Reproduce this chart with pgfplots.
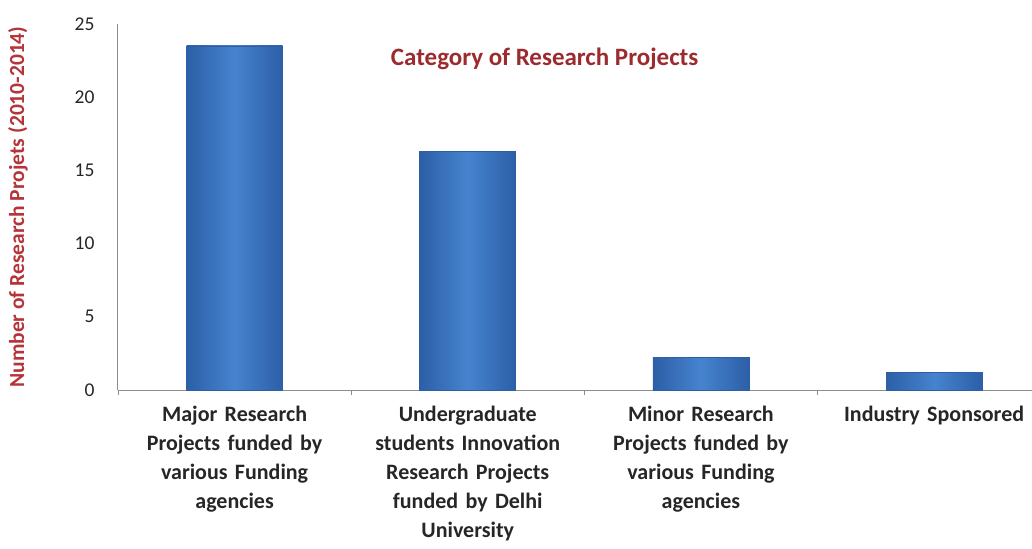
\documentclass[border=0pt]{standalone}
\usepackage{pgfplots}
\pgfplotsset{compat=1.18}
\usepackage{fontspec}
\setmainfont{Carlito}
\definecolor{titlered}{HTML}{9C2B2F}
\definecolor{labred}{HTML}{B5343A}
\definecolor{barmid}{HTML}{4683CF}
\definecolor{baredge}{HTML}{2C5FA6}
\definecolor{axgray}{HTML}{8C8C8C}
\definecolor{txt}{HTML}{262626}
\begin{document}
\begin{tikzpicture}
\begin{axis}[
  scale only axis,
  width=914bp, height=366bp,
  xmin=-0.5, xmax=3.42,
  ymin=0, ymax=25,
  ytick={0,5,10,15,20,25},
  xtick={0,1,2,3},
  xticklabels={{Major Research\\Projects funded by\\various Funding\\agencies},
               {Undergraduate\\students Innovation\\Research Projects\\funded by Delhi\\University},
               {Minor Research\\Projects funded by\\various Funding\\agencies},
               {Industry Sponsored}},
  extra x ticks={-0.5,0.5,1.5,2.5},
  extra x tick labels={},
  extra x tick style={major tick length=5bp, tick align=outside, tick style={axgray, line width=0.8bp}},
  major tick length=0pt,
  axis lines*=left,
  axis line style={axgray, line width=1bp, -},
  /pgf/number format/assume math mode=true,
  x tick label style={font=\fontsize{22bp}{29bp}\selectfont\bfseries, text=txt, align=center, text width=240bp, yshift=-13bp},
  y tick label style={font=\fontsize{19.5bp}{22bp}\selectfont, text=txt, xshift=-20bp},
  ylabel={Number of Research Projets (2010-2014)},
  every axis y label/.style={at={(rel axis cs:0,0.5)}, rotate=90, anchor=center, yshift=100bp,
     font=\fontsize{21.5bp}{24bp}\selectfont\bfseries, text=labred},
  ybar, bar width=96bp, bar shift=0pt,
  clip=false,
  mybar/.style={draw=baredge, line width=0.8bp, left color=baredge, right color=baredge, middle color=barmid},
]
\addplot[mybar] coordinates {(0,23.5)};
\addplot[mybar] coordinates {(1,16.3)};
\addplot[mybar] coordinates {(2,2.2)};
\addplot[mybar] coordinates {(3,1.2)};
\node[font=\fontsize{25bp}{28bp}\selectfont\bfseries, text=titlered] at (axis cs:1.33,22.65) {Category of Research Projects};
\coordinate (O) at (rel axis cs:0,0);
\end{axis}
\pgfresetboundingbox
\path (O) ++(-118bp,-159bp) rectangle ++(1032bp,549bp);
\end{tikzpicture}
\end{document}
